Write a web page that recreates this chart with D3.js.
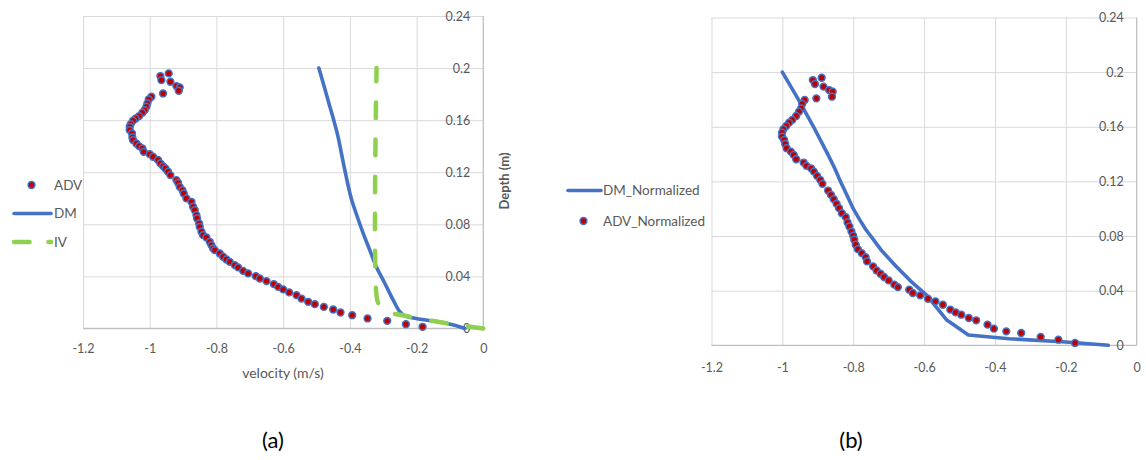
<!DOCTYPE html>
<html>
<head>
<meta charset="utf-8">
<script src="https://cdn.jsdelivr.net/npm/d3@7"></script>
<style>
  html, body { margin: 0; padding: 0; background: #fff; }
  svg { display: block; font-family: Lato, "Open Sans", sans-serif; }
</style>
</head>
<body>
<svg id="chart" width="1146" height="460"></svg>
<script>
// ---------- DATA ----------
const xTicks = [-1.2, -1, -0.8, -0.6, -0.4, -0.2, 0];
const xTickLabels = ["-1.2", "-1", "-0.8", "-0.6", "-0.4", "-0.2", "0"];
const yTicks = [0, 0.04, 0.08, 0.12, 0.16, 0.2, 0.24];
const yTickLabels = ["0", "0.04", "0.08", "0.12", "0.16", "0.2", "0.24"];

// Panel (a): velocity (m/s), depth (m)
const advVel = [-0.968,-0.943,-0.965,-0.938,-0.920,-0.910,-0.913,-0.960,-0.995,-1.003,-1.007,-1.010,-1.015,-1.022,-1.032,-1.042,-1.050,-1.057,-1.060,-1.060,-1.053,-1.052,-1.050,-1.040,-1.032,-1.022,-1.018,-1.000,-0.990,-0.975,-0.968,-0.960,-0.953,-0.945,-0.938,-0.920,-0.915,-0.910,-0.902,-0.898,-0.890,-0.875,-0.870,-0.865,-0.860,-0.858,-0.852,-0.850,-0.845,-0.840,-0.830,-0.820,-0.815,-0.810,-0.805,-0.790,-0.780,-0.770,-0.760,-0.745,-0.735,-0.720,-0.705,-0.682,-0.670,-0.650,-0.628,-0.615,-0.600,-0.582,-0.560,-0.545,-0.525,-0.505,-0.478,-0.450,-0.428,-0.393,-0.347,-0.288,-0.232,-0.182];
const advDepth = [0.1939,0.1959,0.1908,0.1895,0.1862,0.1852,0.1826,0.1805,0.1780,0.1759,0.1729,0.1703,0.1677,0.1657,0.1631,0.1613,0.1596,0.1570,0.1549,0.1524,0.1498,0.1467,0.1447,0.1421,0.1401,0.1383,0.1357,0.1339,0.1319,0.1294,0.1268,0.1247,0.1229,0.1204,0.1178,0.1140,0.1119,0.1088,0.1063,0.1037,0.0999,0.0973,0.0935,0.0909,0.0871,0.0845,0.0807,0.0781,0.0743,0.0717,0.0699,0.0666,0.0640,0.0615,0.0602,0.0576,0.0551,0.0530,0.0512,0.0487,0.0469,0.0443,0.0423,0.0402,0.0384,0.0364,0.0341,0.0320,0.0300,0.0277,0.0256,0.0230,0.0205,0.0187,0.0166,0.0146,0.0123,0.0102,0.0077,0.0059,0.0033,0.0013];

const dmVel =   [-0.493,-0.465,-0.438,-0.417,-0.397,-0.378,-0.360,-0.340,-0.320,-0.295,-0.270,-0.252,-0.238,-0.205,-0.110,-0.055];
const dmDepth = [0.200, 0.175, 0.150, 0.124, 0.101, 0.086, 0.073, 0.060, 0.047, 0.0346,0.0218,0.0135,0.0100,0.0078,0.004, 0.000];

const ivVel =   [-0.320,-0.320,-0.312,-0.295,-0.250,-0.210,-0.110,0.000];
const ivDepth = [0.200, 0.025, 0.018, 0.013, 0.0105,0.0085,0.004, 0.000];

// Panel (b): normalized
const dmNormVel =   [-1.000,-0.955,-0.912,-0.872,-0.853,-0.836,-0.818,-0.800,-0.782,-0.765,-0.722,-0.680,-0.638,-0.593,-0.536,-0.475,-0.360,-0.200,-0.080];
const dmNormDepth = [0.200, 0.180, 0.160, 0.140, 0.130, 0.120, 0.110, 0.100, 0.092, 0.085, 0.070, 0.058, 0.047, 0.0368,0.0185,0.0075,0.0048,0.0024,0.000];

const advNormVel = [-0.914,-0.889,-0.908,-0.884,-0.868,-0.858,-0.860,-0.904,-0.937,-0.944,-0.947,-0.953,-0.961,-0.972,-0.981,-0.989,-0.997,-1.001,-1.001,-0.995,-0.992,-0.988,-0.976,-0.968,-0.961,-0.940,-0.932,-0.919,-0.911,-0.902,-0.893,-0.887,-0.871,-0.863,-0.855,-0.847,-0.840,-0.832,-0.821,-0.816,-0.811,-0.805,-0.800,-0.797,-0.793,-0.787,-0.776,-0.765,-0.761,-0.744,-0.734,-0.723,-0.713,-0.700,-0.684,-0.674,-0.642,-0.632,-0.611,-0.589,-0.568,-0.547,-0.526,-0.511,-0.495,-0.474,-0.453,-0.421,-0.403,-0.368,-0.326,-0.271,-0.221,-0.174];
const advNormDepth = [0.1942,0.1959,0.1913,0.1894,0.1869,0.1857,0.1820,0.1808,0.1796,0.1767,0.1735,0.1711,0.1679,0.1650,0.1630,0.1606,0.1582,0.1557,0.1528,0.1504,0.1474,0.1443,0.1418,0.1394,0.1362,0.1338,0.1314,0.1296,0.1272,0.1240,0.1211,0.1182,0.1133,0.1102,0.1070,0.1036,0.1004,0.0967,0.0938,0.0899,0.0870,0.0833,0.0802,0.0773,0.0736,0.0704,0.0675,0.0646,0.0614,0.0578,0.0548,0.0524,0.0500,0.0475,0.0444,0.0426,0.0407,0.0383,0.0366,0.0341,0.0322,0.0297,0.0261,0.0241,0.0224,0.0200,0.0183,0.0151,0.0122,0.0102,0.0090,0.0061,0.0041,0.0017];

// ---------- STYLE ----------
const BLUE = "#4472c4", RED = "#c00000", GREEN = "#8fd14f";
const GRID = "#d9d9d9", AXIS = "#bfbfbf", TXT = "#595959";

const svg = d3.select("#chart");
const zip = (a, b) => a.map((v, i) => [v, b[i]]);

function panel(box) {
  const x = d3.scaleLinear().domain([-1.2, 0]).range([box.l, box.r]);
  const y = d3.scaleLinear().domain([0, 0.24]).range([box.b, box.t]);
  const g = svg.append("g");

  g.append("g").attr("transform", `translate(0,${box.b})`)
    .call(d3.axisBottom(x).tickValues(xTicks.slice(0, -1)).tickSize(-(box.b - box.t)).tickFormat(""))
    .call(s => s.select(".domain").remove())
    .call(s => s.selectAll("line").attr("stroke", GRID).attr("stroke-width", 1));
  g.append("g").attr("transform", `translate(${box.r},0)`)
    .call(d3.axisLeft(y).tickValues(yTicks.slice(1)).tickSize(box.r - box.l).tickFormat(""))
    .call(s => s.select(".domain").remove())
    .call(s => s.selectAll("line").attr("stroke", GRID).attr("stroke-width", 1));

  g.append("line").attr("x1", box.l).attr("x2", box.r).attr("y1", y(0)).attr("y2", y(0))
    .attr("stroke", AXIS).attr("stroke-width", 1.3);
  g.append("line").attr("x1", x(0)).attr("x2", x(0)).attr("y1", box.t).attr("y2", box.b)
    .attr("stroke", AXIS).attr("stroke-width", 1.3);

  g.append("g").attr("transform", `translate(0,${box.b})`)
    .call(d3.axisBottom(x).tickValues(xTicks).tickSize(0).tickPadding(box.xpad)
      .tickFormat((d, i) => xTickLabels[i]))
    .call(s => s.select(".domain").remove())
    .call(s => s.selectAll("text").attr("fill", TXT).attr("font-size", 12.5).attr("font-family", "Lato"));
  g.append("g").attr("transform", `translate(${x(0)},0)`)
    .call(d3.axisLeft(y).tickValues(yTicks).tickSize(0).tickPadding(13)
      .tickFormat((d, i) => yTickLabels[i]))
    .call(s => s.select(".domain").remove())
    .call(s => s.selectAll("text").attr("fill", TXT).attr("font-size", 12.5).attr("font-family", "Lato"));

  return { x, y, g };
}

function dots(p, data, r) {
  p.g.append("g").selectAll("circle").data(data).join("circle")
    .attr("cx", d => p.x(d[0])).attr("cy", d => p.y(d[1]))
    .attr("r", r).attr("fill", RED).attr("stroke", BLUE).attr("stroke-width", 1.5);
}
function solid(p, data, curve) {
  p.g.append("path").datum(data)
    .attr("d", d3.line().curve(curve).x(d => p.x(d[0])).y(d => p.y(d[1])))
    .attr("fill", "none").attr("stroke", BLUE).attr("stroke-width", 3.6)
    .attr("stroke-linejoin", "round").attr("stroke-linecap", "round");
}

// ---------- PANEL (a) ----------
const A = panel({ l: 83, r: 483.3, t: 16, b: 328.5, xpad: 16 });
dots(A, zip(advVel, advDepth), 3.4);
solid(A, zip(dmVel, dmDepth), d3.curveCatmullRom.alpha(0.5));
A.g.append("path").datum(zip(ivVel, ivDepth).reverse())
  .attr("d", d3.line().curve(d3.curveCatmullRom.alpha(0.5)).x(d => A.x(d[0])).y(d => A.y(d[1])))
  .attr("fill", "none").attr("stroke", GREEN).attr("stroke-width", 4.5)
  .attr("stroke-dasharray", "15.5,21.5").attr("stroke-linecap", "round");

svg.append("text").attr("x", 283).attr("y", 378).attr("text-anchor", "middle")
  .attr("fill", TXT).attr("font-size", 14).text("velocity (m/s)");
svg.append("text").attr("transform", "translate(509,181) rotate(-90)").attr("text-anchor", "middle")
  .attr("fill", TXT).attr("font-size", 13).attr("font-weight", "bold").text("Depth (m)");

// legend (a)
const LA = svg.append("g");
LA.append("circle").attr("cx", 31.5).attr("cy", 185).attr("r", 3.4)
  .attr("fill", RED).attr("stroke", BLUE).attr("stroke-width", 1.5);
LA.append("text").attr("x", 54).attr("y", 185).attr("dy", "0.35em").attr("fill", TXT).attr("font-size", 13.5).text("ADV");
LA.append("line").attr("x1", 14).attr("x2", 51).attr("y1", 213.5).attr("y2", 213.5)
  .attr("stroke", BLUE).attr("stroke-width", 3.6).attr("stroke-linecap", "round");
LA.append("text").attr("x", 54).attr("y", 213.5).attr("dy", "0.35em").attr("fill", TXT).attr("font-size", 13.5).text("DM");
LA.append("line").attr("x1", 14).attr("x2", 51).attr("y1", 242).attr("y2", 242)
  .attr("stroke", GREEN).attr("stroke-width", 4.5).attr("stroke-linecap", "round")
  .attr("stroke-dasharray", "15.5,19");
LA.append("text").attr("x", 54).attr("y", 242).attr("dy", "0.35em").attr("fill", TXT).attr("font-size", 13.5).text("IV");

// ---------- PANEL (b) ----------
const B = panel({ l: 711.5, r: 1136.7, t: 17.5, b: 345.3, xpad: 18 });
solid(B, zip(dmNormVel, dmNormDepth), d3.curveLinear);
dots(B, zip(advNormVel, advNormDepth), 3.4);

// legend (b)
const LB = svg.append("g");
LB.append("line").attr("x1", 568).attr("x2", 601).attr("y1", 190.5).attr("y2", 190.5)
  .attr("stroke", BLUE).attr("stroke-width", 3.6).attr("stroke-linecap", "round");
LB.append("text").attr("x", 603).attr("y", 190.5).attr("dy", "0.35em").attr("fill", TXT).attr("font-size", 13.5).text("DM_Normalized");
LB.append("circle").attr("cx", 583.5).attr("cy", 221).attr("r", 3.4)
  .attr("fill", RED).attr("stroke", BLUE).attr("stroke-width", 1.5);
LB.append("text").attr("x", 603).attr("y", 221).attr("dy", "0.35em").attr("fill", TXT).attr("font-size", 13.5).text("ADV_Normalized");

// captions
svg.append("text").attr("x", 273).attr("y", 440).attr("dy", "0.35em").attr("text-anchor", "middle")
  .attr("fill", "#000").attr("font-size", 22).text("(a)");
svg.append("text").attr("x", 851).attr("y", 440).attr("dy", "0.35em").attr("text-anchor", "middle")
  .attr("fill", "#000").attr("font-size", 22).text("(b)");
</script>
</body>
</html>
